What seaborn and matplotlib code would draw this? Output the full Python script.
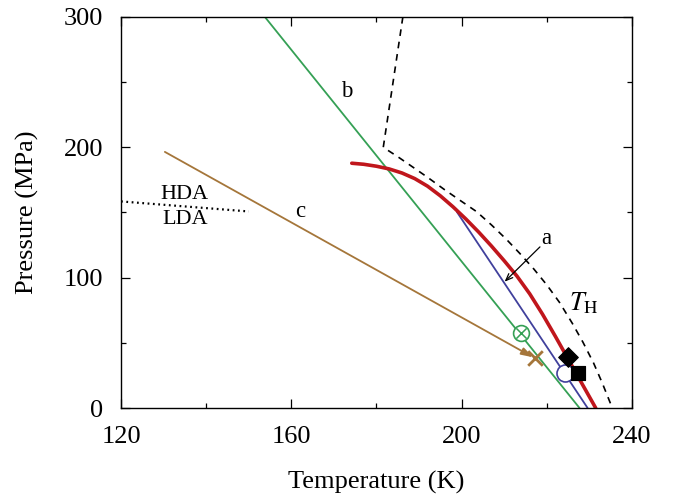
import matplotlib
matplotlib.use("Agg")
import matplotlib.pyplot as plt
import seaborn as sns
import pandas as pd
from matplotlib.ticker import MultipleLocator

# ---- data (temperature in K, pressure in MPa) ----
# curve a (thick red)
a_T = [174.2, 177.0, 180.0, 183.0, 186.0, 189.0, 192.0, 195.0, 198.0, 201.0,
       204.0, 207.0, 210.0, 213.0, 216.0, 219.0, 222.0, 225.0, 228.0, 231.5]
a_P = [187.8, 187.0, 185.5, 183.4, 180.3, 176.0, 170.2, 162.8, 154.3, 145.0,
       135.0, 124.3, 113.0, 101.2, 87.6, 72.0, 55.1, 37.7, 20.3, 0.0]
# blue segment
blue_T = [198.9, 229.6]
blue_P = [150.4, 0.0]
# line b (green)
b_T = [153.8, 227.7]
b_P = [300.0, 0.0]
# line c (brown)
c_T = [130.3, 217.2]
c_P = [196.5, 38.1]
# homogeneous nucleation line T_H (dashed)
th_T = [186.2, 181.6, 185.0, 187.8, 192.0, 196.0, 200.0, 203.5, 207.0, 210.5,
        213.7, 217.0, 220.0, 223.0, 226.0, 228.5, 231.0, 233.0, 235.4]
th_P = [300.0, 200.0, 192.8, 186.5, 177.0, 167.5, 158.5, 150.7, 140.5, 129.5,
        118.5, 106.5, 94.5, 81.0, 65.0, 50.5, 34.5, 19.5, 0.0]
# HDA/LDA boundary (dotted)
hl_T = [120.0, 150.0]
hl_P = [158.5, 150.8]
# individual points
circx_T, circx_P = [213.9], [57.6]
ocirc_T, ocirc_P = [224.2], [27.1]
diam_T, diam_P = [225.0], [39.4]
sq_T, sq_P = [227.3], [27.1]

RED = "#c0161c"
GREEN = "#35a055"
BLUE = "#40409c"
BROWN = "#a5763a"

sns.set_style("ticks")
plt.rcParams["font.family"] = ["Liberation Serif", "DejaVu Serif"]
plt.rcParams["mathtext.fontset"] = "stix"
for key in ("text.color", "axes.labelcolor", "xtick.color", "ytick.color",
            "axes.edgecolor"):
    plt.rcParams[key] = "black"

fig = plt.figure(figsize=(6.78, 4.98), dpi=100)
ax = fig.add_axes([0.1785, 0.1807, 0.932 - 0.1785, 0.9659 - 0.1807])

def line(x, y, **kw):
    df = pd.DataFrame({"T": x, "P": y})
    sns.lineplot(data=df, x="T", y="P", sort=False, estimator=None, ax=ax, **kw)

line(b_T, b_P, color=GREEN, lw=1.3)
line(blue_T, blue_P, color=BLUE, lw=1.3)
line(a_T, a_P, color=RED, lw=2.6)
line(th_T, th_P, color="black", lw=1.2, dashes=(4, 3.5))
line(hl_T, hl_P, color="black", lw=1.6, dashes=(0.8, 1.6))

# line c drawn as an arrow ending at the cross
ax.annotate("", xy=(c_T[1] - 0.4, c_P[1] + 0.8), xytext=(c_T[0], c_P[0]),
            arrowprops=dict(arrowstyle="-|>,head_length=0.7,head_width=0.22",
                            color=BROWN, lw=1.3, shrinkA=0, shrinkB=0))
sns.scatterplot(x=c_T[1:], y=c_P[1:], marker="x", s=110, color=BROWN,
                linewidth=2.0, ax=ax, zorder=5)

# circled cross (green)
sns.scatterplot(x=circx_T, y=circx_P, marker="o", s=130, facecolor="white",
                edgecolor=GREEN, linewidth=1.2, ax=ax, zorder=5)
sns.scatterplot(x=circx_T, y=circx_P, marker="x", s=55, color=GREEN,
                linewidth=1.1, ax=ax, zorder=6)
# open blue circle
sns.scatterplot(x=ocirc_T, y=ocirc_P, marker="o", s=150, facecolor="white",
                edgecolor=BLUE, linewidth=1.2, ax=ax, zorder=5)
# filled diamond and square
sns.scatterplot(x=diam_T, y=diam_P, marker="D", s=100, color="black",
                edgecolor="black", ax=ax, zorder=6)
sns.scatterplot(x=sq_T, y=sq_P, marker="s", s=110, color="black",
                edgecolor="black", ax=ax, zorder=6)

# annotations
fs = 16.5
ax.text(173.0, 242.7, "b", fontsize=fs, ha="center", va="center")
ax.text(162.0, 150.7, "c", fontsize=fs, ha="center", va="center")
ax.text(135.0, 163.5, "HDA", fontsize=16, ha="center", va="center")
ax.text(135.0, 144.3, "LDA", fontsize=16, ha="center", va="center")
ax.text(228.6, 80.6, r"$T_{\mathrm{H}}$", fontsize=19, ha="center", va="center")
ax.text(220.0, 130.2, "a", fontsize=fs, ha="center", va="center")
ax.annotate("", xy=(210.1, 96.9), xytext=(218.4, 123.6),
            arrowprops=dict(arrowstyle="->,head_length=0.5,head_width=0.2",
                            color="black", lw=0.9, shrinkA=0, shrinkB=0))

ax.set_xlim(120, 240)
ax.set_ylim(0, 300)
ax.xaxis.set_major_locator(MultipleLocator(40))
ax.xaxis.set_minor_locator(MultipleLocator(20))
ax.yaxis.set_major_locator(MultipleLocator(100))
ax.yaxis.set_minor_locator(MultipleLocator(50))
ax.tick_params(which="both", direction="in", top=True, right=True,
               labelsize=19, width=0.9, color="black")
ax.tick_params(axis="x", which="major", length=6.5, pad=13)
ax.tick_params(axis="y", which="major", length=6.5, pad=13)
ax.tick_params(which="minor", length=3.5)
for s in ax.spines.values():
    s.set_visible(True)
    s.set_linewidth(1.0)
    s.set_color("black")

ax.set_xlabel("Temperature (K)", fontsize=19, va="center")
ax.set_ylabel("Pressure (MPa)", fontsize=19, va="center")
ax.xaxis.set_label_coords(0.5, -0.19)
ax.yaxis.set_label_coords(-0.184, 0.5)

fig.savefig("out.png", dpi=100)
